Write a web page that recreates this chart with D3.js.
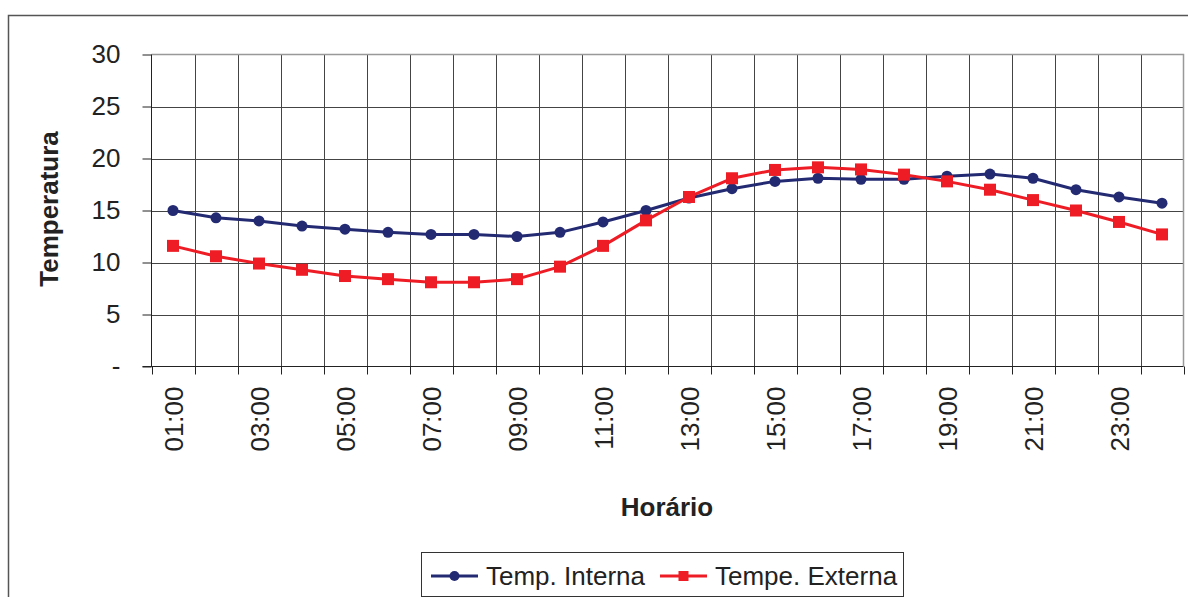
<!DOCTYPE html>
<html><head><meta charset="utf-8">
<script src="https://cdn.jsdelivr.net/npm/d3@7"></script>
<style>body{margin:0;background:#fff}svg{display:block}text{font-family:"Liberation Sans",Arial,sans-serif;fill:#222}</style>
</head><body><svg id="c" width="1188" height="597"></svg>
<script>
const hours = ["01:00","02:00","03:00","04:00","05:00","06:00","07:00","08:00","09:00","10:00","11:00","12:00","13:00","14:00","15:00","16:00","17:00","18:00","19:00","20:00","21:00","22:00","23:00","24:00"];
const interna = [15.0,14.3,14.0,13.5,13.2,12.9,12.7,12.7,12.5,12.9,13.9,15.0,16.2,17.1,17.8,18.1,18.0,18.0,18.3,18.5,18.1,17.0,16.3,15.7];
const externa = [11.6,10.6,9.9,9.3,8.7,8.4,8.1,8.1,8.4,9.6,11.6,14.05,16.3,18.1,18.9,19.15,18.95,18.45,17.8,17.0,16.0,15.0,13.9,12.7];
const yTicks = [0,5,10,15,20,25,30];
const seriesNames = ["Temp. Interna","Tempe. Externa"];
const colors = ["#232A72","#EE1C25"];

const svg = d3.select("#c");
const L=151.5, R=1183.5, T=54.5, B=366.5;
const x = d3.scaleBand().domain(hours).range([L,R]).padding(0);
const y = d3.scaleLinear().domain([0,30]).range([B,T]);

// outer border
svg.append("rect").attr("x",8.5).attr("y",15.5).attr("width",1200).attr("height",620)
  .attr("fill","none").attr("stroke","#555").attr("stroke-width",1.5);

// horizontal gridlines
svg.append("g").selectAll("line").data(yTicks.filter(d=>d>0&&d<30)).join("line")
  .attr("x1",L).attr("x2",R).attr("y1",d=>Math.round(y(d))+0.5).attr("y2",d=>Math.round(y(d))+0.5)
  .attr("stroke","#444").attr("stroke-width",1);
// vertical gridlines
svg.append("g").selectAll("line").data(hours.slice(1)).join("line")
  .attr("x1",d=>Math.round(x(d))+0.5).attr("x2",d=>Math.round(x(d))+0.5).attr("y1",T).attr("y2",B)
  .attr("stroke","#444").attr("stroke-width",1);
// plot border top/right
svg.append("path").attr("d",`M${L},${T}H${R}V${B}`).attr("fill","none").attr("stroke","#999").attr("stroke-width",1.5);

// y axis
const yAxis = d3.axisLeft(y).tickValues(yTicks).tickSize(9).tickPadding(22)
  .tickFormat(d=>d===0?"-":String(d));
const gy = svg.append("g").attr("transform",`translate(${L},0)`).call(yAxis);
gy.select(".domain").attr("stroke","#222").attr("d",`M0,${T}V${B}`);
gy.selectAll(".tick line").attr("stroke","#222");
gy.selectAll("text").attr("font-size",26).attr("fill","#222").attr("font-family","Liberation Sans, Arial");

// x axis
const gx = svg.append("g").attr("transform",`translate(0,${B})`);
gx.append("line").attr("x1",L-9).attr("x2",R).attr("y1",0).attr("y2",0).attr("stroke","#222");
gx.selectAll("line.tk").data(hours.concat(["end"])).join("line").attr("class","tk")
  .attr("x1",(d,i)=>Math.round(L+i*x.bandwidth())+0.5).attr("x2",(d,i)=>Math.round(L+i*x.bandwidth())+0.5)
  .attr("y1",0).attr("y2",8).attr("stroke","#222");
gx.selectAll("text").data(hours.filter((d,i)=>i%2===0)).join("text")
  .attr("transform",d=>`translate(${x(d)+x.bandwidth()/2+9.5},20) rotate(-90)`)
  .attr("text-anchor","end").attr("font-size",26).text(d=>d);

// axis titles
svg.append("text").attr("transform","translate(58,209) rotate(-90)").attr("text-anchor","middle")
  .attr("font-size",26).attr("font-weight","bold").text("Temperatura");
svg.append("text").attr("x",667).attr("y",516).attr("text-anchor","middle")
  .attr("font-size",26).attr("font-weight","bold").text("Horário");

// series
const line = d3.line().x((d,i)=>x(hours[i])+x.bandwidth()/2).y(d=>y(d));
[interna,externa].forEach((s,k)=>{
  svg.append("path").datum(s).attr("d",line).attr("fill","none").attr("stroke",colors[k]).attr("stroke-width",3).attr("stroke-linejoin","round");
});
svg.append("g").selectAll("circle").data(interna).join("circle")
  .attr("cx",(d,i)=>x(hours[i])+x.bandwidth()/2).attr("cy",d=>y(d)).attr("r",5.5).attr("fill",colors[0]);
svg.append("g").selectAll("rect").data(externa).join("rect")
  .attr("x",(d,i)=>x(hours[i])+x.bandwidth()/2-6).attr("y",d=>y(d)-6).attr("width",12).attr("height",12).attr("fill",colors[1]);

// legend
const lg = svg.append("g");
lg.append("rect").attr("x",421.5).attr("y",552.5).attr("width",482).attr("height",44).attr("fill","#fff").attr("stroke","#333").attr("stroke-width",1);
const items = [{x0:431,x1:478,t:486},{x0:660,x1:707,t:715}];
items.forEach((it,k)=>{
  lg.append("line").attr("x1",it.x0).attr("x2",it.x1).attr("y1",576).attr("y2",576).attr("stroke",colors[k]).attr("stroke-width",3);
  const cx=(it.x0+it.x1)/2;
  if(k===0) lg.append("circle").attr("cx",cx).attr("cy",576).attr("r",5).attr("fill",colors[0]);
  else lg.append("rect").attr("x",cx-5).attr("y",571).attr("width",10).attr("height",10).attr("fill",colors[1]);
  lg.append("text").attr("x",it.t).attr("y",585).attr("font-size",26).text(seriesNames[k]);
});
</script></body></html>
